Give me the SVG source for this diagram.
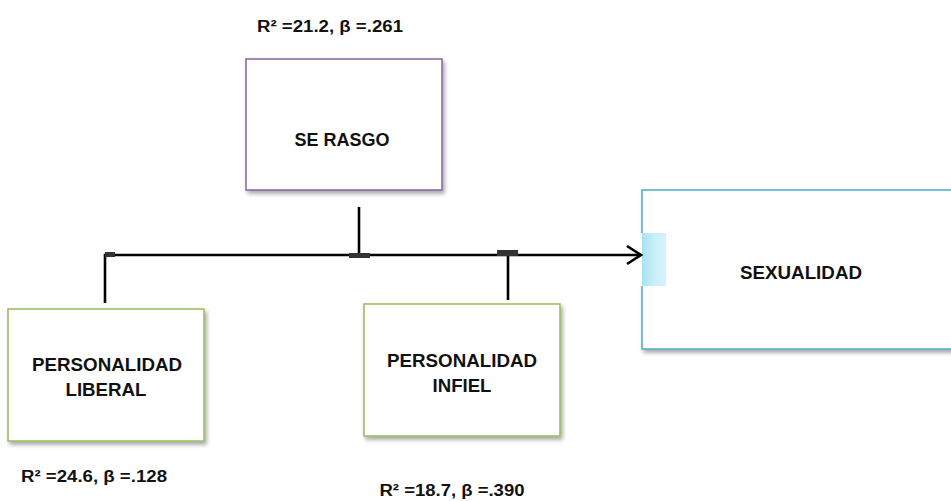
<svg xmlns="http://www.w3.org/2000/svg" width="951" height="501" viewBox="0 0 951 501">
  <style>
    text { font-family: "Liberation Sans", Arial, sans-serif; font-weight: bold; fill: #111; }
    .lbl { font-size: 16px; }
    .nt { font-size: 18px; }
    .box { fill: #fff; stroke-width: 1.5; }
    .conn { fill: none; stroke: #000; stroke-width: 2.6; }
    .stub { fill: #333; }
  </style>
  <defs>
    <filter id="sh" x="-10%" y="-10%" width="125%" height="130%">
      <feGaussianBlur in="SourceAlpha" stdDeviation="2"/>
      <feOffset dx="2" dy="3" result="b"/>
      <feComponentTransfer><feFuncA type="linear" slope="0.35"/></feComponentTransfer>
      <feMerge><feMergeNode/><feMergeNode in="SourceGraphic"/></feMerge>
    </filter>
    <linearGradient id="hl" x1="0" y1="0" x2="1" y2="0">
      <stop offset="0" stop-color="#a9e3f2"/>
      <stop offset="0.5" stop-color="#c8eff9"/>
      <stop offset="1" stop-color="#d6f2fb"/>
    </linearGradient>
  </defs>
  <rect width="951" height="501" fill="#fff"/>

  <g id="se-rasgo">
    <text class="lbl" x="330" y="32" text-anchor="middle" textLength="146" lengthAdjust="spacingAndGlyphs">R² =21.2, β =.261</text>
    <rect class="box" x="246" y="59" width="196" height="131" stroke="#8064a2" filter="url(#sh)"/>
    <text class="nt" x="342" y="146" text-anchor="middle" textLength="95" lengthAdjust="spacingAndGlyphs">SE RASGO</text>
  </g>

  <g id="sexualidad">
    <rect class="box" x="642" y="190" width="320" height="159" stroke="#4bacc6" filter="url(#sh)"/>
    <rect x="630" y="233" width="12" height="53" fill="#fff"/>
    <rect x="642" y="233" width="24" height="53" fill="url(#hl)"/>
    <text class="nt" x="801" y="279" text-anchor="middle" textLength="122" lengthAdjust="spacingAndGlyphs">SEXUALIDAD</text>
  </g>

  <g id="personalidad-liberal">
    <rect class="box" x="8" y="309" width="196" height="132" stroke="#9bbb59" filter="url(#sh)"/>
    <text class="nt" x="107" y="371" text-anchor="middle" textLength="150" lengthAdjust="spacingAndGlyphs">PERSONALIDAD</text>
    <text class="nt" x="106" y="396" text-anchor="middle" textLength="81" lengthAdjust="spacingAndGlyphs">LIBERAL</text>
    <text class="lbl" x="94" y="482" text-anchor="middle" textLength="146" lengthAdjust="spacingAndGlyphs">R² =24.6, β =.128</text>
  </g>

  <g id="personalidad-infiel">
    <rect class="box" x="364" y="304" width="196" height="132" stroke="#9bbb59" filter="url(#sh)"/>
    <text class="nt" x="462" y="367" text-anchor="middle" textLength="150" lengthAdjust="spacingAndGlyphs">PERSONALIDAD</text>
    <text class="nt" x="462" y="392" text-anchor="middle" textLength="59" lengthAdjust="spacingAndGlyphs">INFIEL</text>
    <text class="lbl" x="452" y="496" text-anchor="middle" textLength="145" lengthAdjust="spacingAndGlyphs">R² =18.7, β =.390</text>
  </g>

  <g id="connectors">
    <path class="conn" d="M105,303 V255 H641"/>
    <path class="conn" d="M627,246 L641,255 L627,264" stroke-linejoin="miter"/>
    <path class="conn" d="M359,207 V255"/>
    <path class="conn" d="M508,255 V300"/>
    <rect class="stub" x="105" y="252" width="10" height="5"/>
    <rect class="stub" x="349" y="253" width="21" height="5"/>
    <rect class="stub" x="497" y="250" width="21" height="6"/>
  </g>
</svg>
